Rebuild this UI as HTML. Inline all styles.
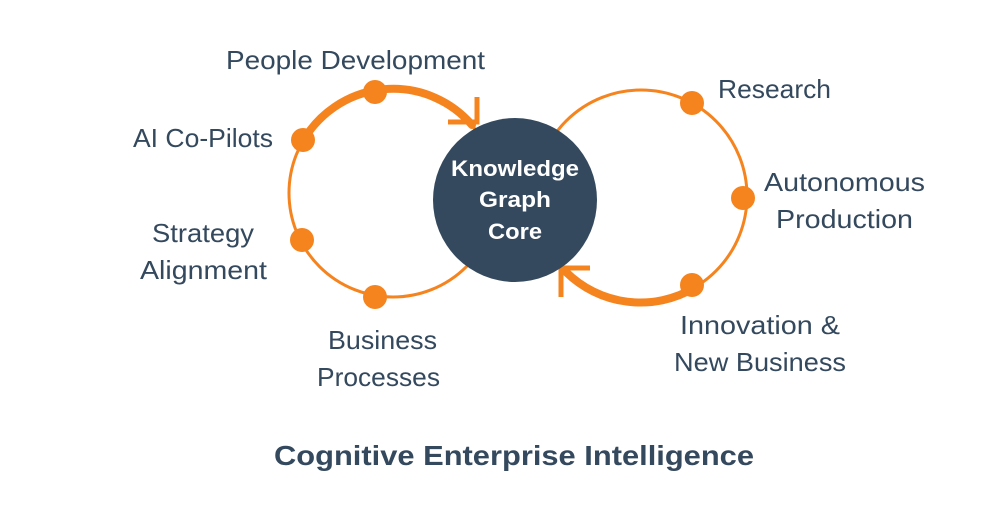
<!DOCTYPE html>
<html><head><style>
html,body{margin:0;padding:0;background:#fff;}
svg{display:block;}
text{font-family:"Liberation Sans",sans-serif;fill:#34495e;}
</style></head><body>
<svg width="1000" height="505" viewBox="0 0 1000 505" xmlns="http://www.w3.org/2000/svg">
<g fill="none" stroke="#f5841f" stroke-linecap="round">
<circle cx="393" cy="193" r="104" stroke-width="3"/>
<circle cx="641" cy="196" r="106" stroke-width="3"/>
<path d="M 303 141 A 104 104 0 0 1 472 125" stroke-width="8"/>
<path d="M 694 288 A 106 106 0 0 1 566 272" stroke-width="8"/>
<path d="M 448 122 L 477 122 L 477 97" stroke-width="5" stroke-linecap="butt"/>
<path d="M 590 268 L 561 268 L 561 297" stroke-width="5" stroke-linecap="butt"/>
</g>
<circle cx="515" cy="200" r="82" fill="#34495e"/>
<g fill="#f5841f">
<circle cx="375" cy="92" r="12"/>
<circle cx="303" cy="140" r="12"/>
<circle cx="302" cy="240" r="12"/>
<circle cx="375" cy="297" r="12"/>
<circle cx="692" cy="103" r="12"/>
<circle cx="743" cy="198" r="12"/>
<circle cx="692" cy="285" r="12"/>
</g>
<g font-weight="bold" font-size="22" text-anchor="middle">
<text x="515" y="176" style="fill:#fff" textLength="128" lengthAdjust="spacingAndGlyphs">Knowledge</text>
<text x="515" y="207" style="fill:#fff" textLength="72" lengthAdjust="spacingAndGlyphs">Graph</text>
<text x="515" y="239" style="fill:#fff" textLength="54" lengthAdjust="spacingAndGlyphs">Core</text>
</g>
<g font-size="26">
<text x="226" y="69" textLength="259" lengthAdjust="spacingAndGlyphs">People Development</text>
<text x="133" y="147" textLength="140" lengthAdjust="spacingAndGlyphs">AI Co-Pilots</text>
<text x="152" y="242" textLength="102" lengthAdjust="spacingAndGlyphs">Strategy</text>
<text x="140" y="279" textLength="127" lengthAdjust="spacingAndGlyphs">Alignment</text>
<text x="328" y="349" textLength="109" lengthAdjust="spacingAndGlyphs">Business</text>
<text x="317" y="386" textLength="123" lengthAdjust="spacingAndGlyphs">Processes</text>
<text x="718" y="98" textLength="113" lengthAdjust="spacingAndGlyphs">Research</text>
<text x="764" y="191" textLength="161" lengthAdjust="spacingAndGlyphs">Autonomous</text>
<text x="776" y="228" textLength="137" lengthAdjust="spacingAndGlyphs">Production</text>
<text x="680" y="334" textLength="160" lengthAdjust="spacingAndGlyphs">Innovation &amp;</text>
<text x="674" y="371" textLength="172" lengthAdjust="spacingAndGlyphs">New Business</text>
</g>
<text x="274" y="465" font-size="28" font-weight="bold" textLength="480" lengthAdjust="spacingAndGlyphs">Cognitive Enterprise Intelligence</text>
</svg>
</body></html>
